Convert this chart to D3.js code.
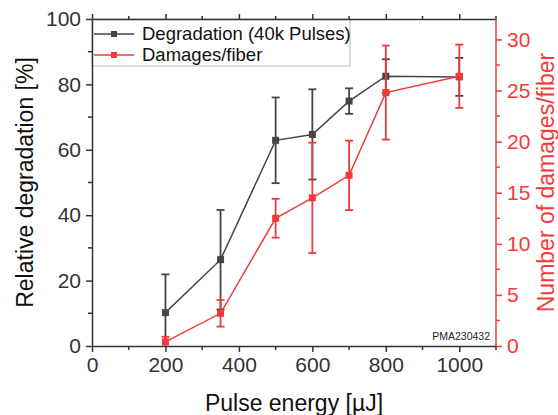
<!DOCTYPE html>
<html>
<head>
<meta charset="utf-8">
<script src="https://cdn.jsdelivr.net/npm/d3@7"></script>
<style>
  body { margin: 0; background: #fff; }
  text { font-family: "Liberation Sans", Arial, sans-serif; }
</style>
</head>
<body>
<div id="chart"></div>
<script>
// Data
const energy = [200, 350, 500, 600, 700, 800, 1000];
const degradation = [10.2, 26.4, 62.9, 64.7, 74.9, 82.5, 82.3];
const degradationErr = [11.7, 15.2, 13.1, 13.8, 3.9, 5.2, 5.8];
const damages = [0.4, 3.2, 12.5, 14.5, 16.7, 24.8, 26.4];
const damagesErr = [0.5, 1.3, 1.9, 5.4, 3.4, 4.6, 3.1];

const xTicks = [0, 200, 400, 600, 800, 1000];
const yLeftTicks = [0, 20, 40, 60, 80, 100];
const yRightTicks = [0, 5, 10, 15, 20, 25, 30];

const greyC = "#454545";
const redC = "#f23a3a";

const W = 558, H = 415;
const margin = { top: 19, right: 62, bottom: 69, left: 92 };
const width = W - margin.left - margin.right;
const height = H - margin.top - margin.bottom;

const svg = d3.select("#chart")
    .append("svg")
    .attr("width", W)
    .attr("height", H)
    .append("g")
    .attr("transform", `translate(${margin.left},${margin.top})`);

const x = d3.scaleLinear().domain([0, 1100]).range([0, width]);
const yL = d3.scaleLinear().domain([0, 100]).range([height, 0]);
const yR = d3.scaleLinear().domain([0, 32]).range([height, 0]);

// clip for error bars that go below zero
svg.append("clipPath").attr("id", "clip")
    .append("rect").attr("x", -10).attr("y", -10).attr("width", width + 20).attr("height", height + 10);

// Legend box (drawn under the data)
svg.append("rect")
    .attr("x", 0).attr("y", 0)
    .attr("width", 258).attr("height", 47)
    .attr("fill", "#fff")
    .attr("stroke", "#c4c4c4")
    .attr("stroke-width", 1.2);

function styleAxis(g, color, size) {
    g.select(".domain").attr("stroke", color).attr("stroke-width", 1.5);
    g.selectAll(".tick line").attr("stroke", color).attr("stroke-width", 1.5);
    g.selectAll(".tick text")
        .attr("fill", color)
        .style("font-size", size + "px");
}

// minor ticks
const xMinor = d3.range(100, 1101, 200);
const yLMinor = d3.range(10, 100, 20);
const yRMinor = d3.range(2.5, 32, 5);

// Bottom axis
const gx = svg.append("g")
    .attr("transform", `translate(0,${height})`)
    .call(d3.axisBottom(x).tickValues(xTicks).tickFormat(d3.format("d")).tickSize(6).tickPadding(5).tickSizeOuter(0));
styleAxis(gx, "#333", 21);
gx.selectAll(".minor").data(xMinor).enter().append("line")
    .attr("x1", d => x(d)).attr("x2", d => x(d))
    .attr("y1", 0).attr("y2", 4)
    .attr("stroke", "#333").attr("stroke-width", 1.5);

// Top axis (mirror ticks)
const gt = svg.append("g")
    .call(d3.axisTop(x).tickValues(xTicks).tickSize(5).tickFormat("").tickSizeOuter(0));
styleAxis(gt, "#333", 21);
gt.selectAll(".minor").data(xMinor).enter().append("line")
    .attr("x1", d => x(d)).attr("x2", d => x(d))
    .attr("y1", 0).attr("y2", -3)
    .attr("stroke", "#333").attr("stroke-width", 1.5);

// Left axis
const gy = svg.append("g")
    .call(d3.axisLeft(yL).tickValues(yLeftTicks).tickSize(6).tickPadding(5).tickSizeOuter(0));
styleAxis(gy, "#333", 21);
gy.selectAll(".minor").data(yLMinor).enter().append("line")
    .attr("x1", 0).attr("x2", -4)
    .attr("y1", d => yL(d)).attr("y2", d => yL(d))
    .attr("stroke", "#333").attr("stroke-width", 1.5);

// Right axis (red)
const gr = svg.append("g")
    .attr("transform", `translate(${width},0)`)
    .call(d3.axisRight(yR).tickValues(yRightTicks).tickSize(6).tickPadding(5).tickSizeOuter(0));
gr.select(".domain").attr("d", `M0,0V${height}`);
styleAxis(gr, redC, 21);
gr.selectAll(".minor").data(yRMinor).enter().append("line")
    .attr("x1", 0).attr("x2", 4)
    .attr("y1", d => yR(d)).attr("y2", d => yR(d))
    .attr("stroke", redC).attr("stroke-width", 1.5);

// Axis titles
svg.append("text")
    .attr("x", width / 2)
    .attr("y", height + 65)
    .attr("text-anchor", "middle")
    .attr("fill", "#111")
    .style("font-size", "23px")
    .text("Pulse energy [µJ]");

svg.append("text")
    .attr("transform", `translate(${-59},${height / 2}) rotate(-90)`)
    .attr("text-anchor", "middle")
    .attr("fill", "#111")
    .style("font-size", "23px")
    .text("Relative degradation [%]");

svg.append("text")
    .attr("transform", `translate(${width + 41},${height / 2}) rotate(-90)`)
    .attr("text-anchor", "middle")
    .attr("dy", "0.72em")
    .attr("fill", redC)
    .style("font-size", "23px")
    .text("Number of damages/fiber");

// Series drawing
function drawSeries(vals, errs, yScale, color) {
    const pts = energy.map((e, i) => ({ e, v: vals[i], err: errs[i] }));
    const g = svg.append("g").attr("clip-path", "url(#clip)");

    g.append("path")
        .datum(pts)
        .attr("fill", "none")
        .attr("stroke", color)
        .attr("stroke-width", 1.5)
        .attr("d", d3.line().x(d => x(d.e)).y(d => yScale(d.v)));

    const eb = g.selectAll(".eb").data(pts).enter().append("g");
    eb.append("line")
        .attr("x1", d => x(d.e)).attr("x2", d => x(d.e))
        .attr("y1", d => yScale(d.v + d.err)).attr("y2", d => yScale(d.v - d.err))
        .attr("stroke", color).attr("stroke-width", 1.8);
    [1, -1].forEach(s => {
        eb.append("line")
            .attr("x1", d => x(d.e) - 4).attr("x2", d => x(d.e) + 4)
            .attr("y1", d => yScale(d.v + s * d.err)).attr("y2", d => yScale(d.v + s * d.err))
            .attr("stroke", color).attr("stroke-width", 1.8);
    });

    g.selectAll(".pt").data(pts).enter().append("rect")
        .attr("x", d => x(d.e) - 3.5).attr("y", d => yScale(d.v) - 3.5)
        .attr("width", 7).attr("height", 7)
        .attr("fill", color);
}

drawSeries(degradation, degradationErr, yL, greyC);
drawSeries(damages, damagesErr, yR, redC);

// Legend entries
const legend = [
    { label: "Degradation (40k Pulses)", color: greyC },
    { label: "Damages/fiber", color: redC }
];
legend.forEach((d, i) => {
    const ly = 15 + i * 21;
    svg.append("line")
        .attr("x1", 2).attr("x2", 42).attr("y1", ly).attr("y2", ly)
        .attr("stroke", d.color).attr("stroke-width", 1.5);
    svg.append("rect")
        .attr("x", 19).attr("y", ly - 3).attr("width", 6).attr("height", 6)
        .attr("fill", d.color);
    svg.append("text")
        .attr("x", 50).attr("y", ly)
        .attr("dy", "0.35em")
        .attr("fill", "#111")
        .style("font-size", "18.5px")
        .text(d.label);
});

// Sample ID
svg.append("text")
    .attr("x", width - 6)
    .attr("y", height - 6)
    .attr("text-anchor", "end")
    .attr("fill", "#222")
    .style("font-size", "10.5px")
    .text("PMA230432");
</script>
</body>
</html>
